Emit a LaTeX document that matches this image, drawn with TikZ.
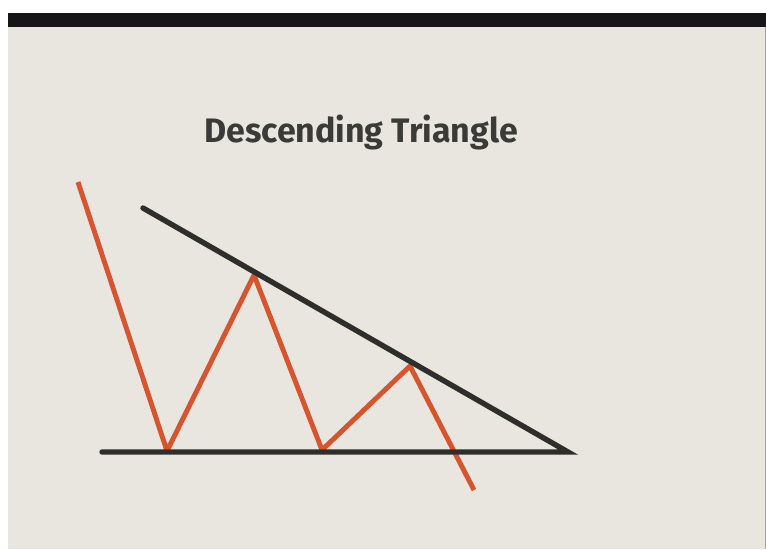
\documentclass[tikz,border=0pt]{standalone}
\usepackage{fontspec}
\setsansfont{Fira Sans}
\definecolor{paper}{HTML}{E9E6DF}
\definecolor{barblack}{HTML}{161616}
\definecolor{trendred}{HTML}{D6552F}
\definecolor{trendblack}{HTML}{2E2E2C}
\definecolor{titlegray}{HTML}{3A3A38}
\tikzset{
  price/.style={trendred,line width=4.2pt,line join=round},
  trend/.style={trendblack,line width=4.6pt,line cap=round},
}
\begin{document}
\begin{tikzpicture}[x=0.03cm,y=-0.03cm]
  \useasboundingbox (0,0) rectangle (766,549);
  \fill[white] (0,0) rectangle (766,549);
  \fill[paper] (8,27) rectangle (766,549);
  \fill[gray!70] (764.5,27) rectangle (766,549);
  \fill[barblack] (8,13) rectangle (766,27);
  \node[titlegray,font=\sffamily\bfseries\fontsize{29}{34}\selectfont] (title) at (361,132) {Descending Triangle};
  % points of the pattern
  \coordinate (p0) at (78,182);
  \coordinate (p1) at (167,451);
  \coordinate (p2) at (254,275);
  \coordinate (p3) at (322,450);
  \coordinate (p4) at (410,366);
  \coordinate (p5) at (474,490);
  \coordinate (r0) at (143,208);
  \coordinate (s0) at (102,452);
  \coordinate (apex) at (568,452);
  \draw[price] (p0) -- (p1) -- (p2) -- (p3) -- (p4) -- (p5);
  \draw[trend] (r0) -- (apex) -- (s0);
\end{tikzpicture}
\end{document}
